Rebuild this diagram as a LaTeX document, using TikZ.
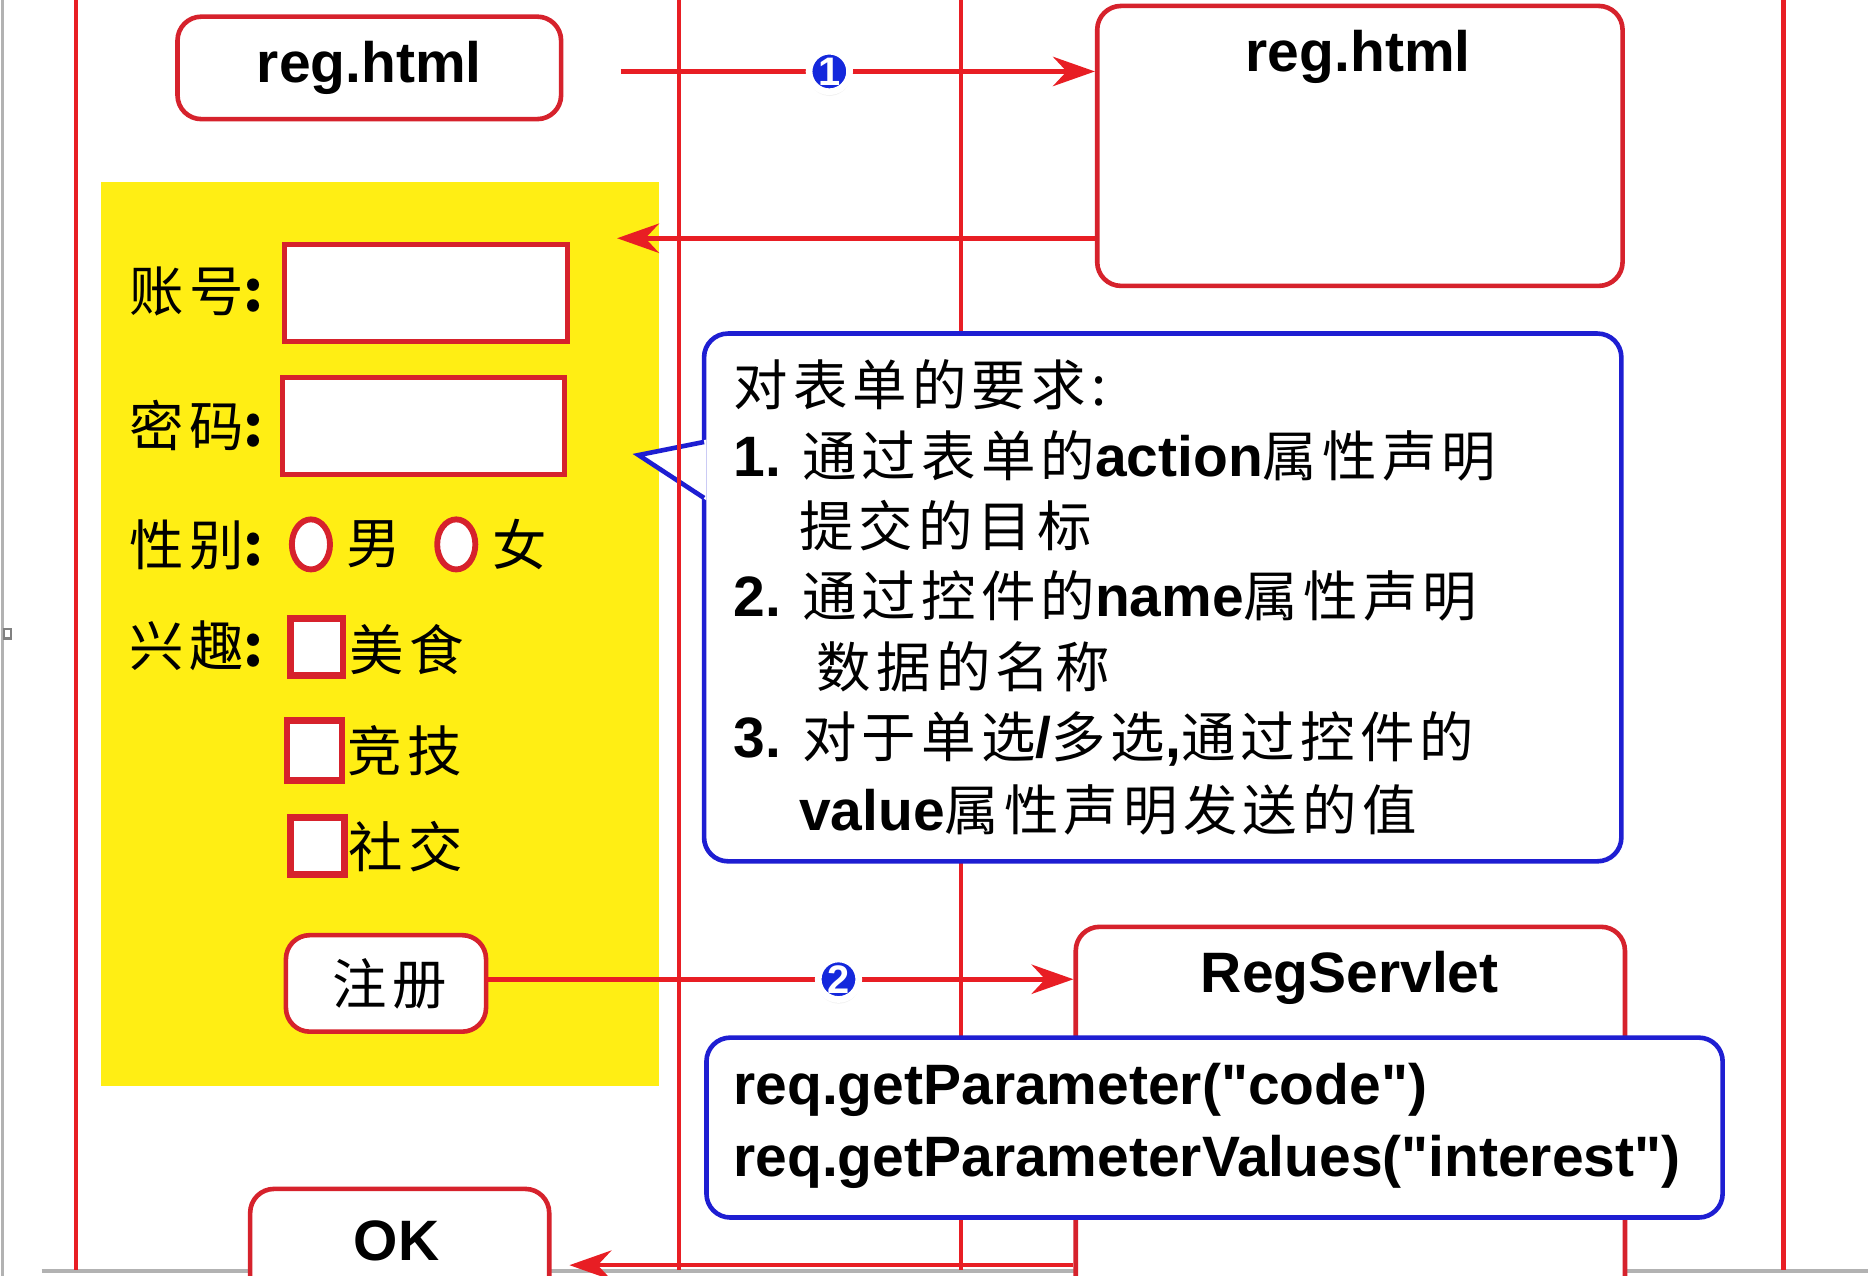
\documentclass[tikz,border=0pt]{standalone}
\usepackage{fontspec}
\setmainfont{Liberation Sans}[Ligatures=TeXOff]
\newfontfamily\cjk{Noto Sans CJK SC}[LetterSpace=9.5]
\usetikzlibrary{arrows.meta,shadows,fit,shapes.geometric}
\definecolor{lred}{RGB}{232,30,36}
\definecolor{bred}{RGB}{214,34,44}
\definecolor{bblue}{RGB}{30,30,210}
\definecolor{fyellow}{RGB}{255,238,20}
\definecolor{badgeblue}{RGB}{20,40,220}
\newcommand\latb{\fontsize{13.6}{16}\selectfont\bfseries}
\newcommand\zht{\fontsize{13}{16}\selectfont\cjk}
\begin{document}
\begin{tikzpicture}[x=0.01cm,y=-0.01cm,
  vline/.style={lred, line width=1pt},
  box/.style={draw=bred, line width=1.1pt, rounded corners=0.2cm, fill=white, inner sep=0pt},
  bluebox/.style={draw=bblue, line width=1.1pt, rounded corners=0.2cm, fill=white, inner sep=0pt},
  field/.style={draw=bred, line width=1.2pt, fill=white, inner sep=0pt},
  chk/.style={draw=bred, line width=1.6pt, fill=white, inner sep=0pt},
  radio/.style={ellipse, draw=bred, line width=1.4pt, fill=white, inner sep=0pt, minimum width=0.32cm, minimum height=0.42cm},
  arr/.style={lred, line width=1.1pt, -{Stealth[length=10pt,width=7pt]}},
  badge/.style={circle, fill=badgeblue, draw=white, line width=1.6pt, inner sep=0pt, minimum size=0.34cm, text=white, font=\fontsize{9.5}{9.5}\selectfont\bfseries, circular drop shadow={shadow xshift=0pt, shadow yshift=-0.6pt, shadow scale=1.08, opacity=0.3}},
  txt/.style={anchor=west, inner sep=0pt},
]
\useasboundingbox (0,0) rectangle (1568,1071);
\clip (0,0) rectangle (1568,1071);
\fill[white] (0,0) rectangle (1568,1071);
% screenshot edges
\draw[gray!60, line width=0.8pt] (2,0) -- (2,1071);
\draw[gray!60, line width=1pt] (35,1067) -- (1568,1067);
\draw[gray, line width=0.5pt] (3,528) rectangle (9,536);
% lifelines
\draw[vline] (64,0) -- (64,1066);
\draw[vline] (807,0) -- (807,1066);
\draw[vline] (1497,0) -- (1497,1066);
% form area
\fill[fyellow] (85,153) rectangle (553,912);
\node[box, fit={(149,14)(471,100)}] (reg1) {};
\node[font=\latb] (reg1t) at (reg1.center) {reg.html};
\node[box, fit={(921,5)(1362,240)}] (reg2) {};
\node[font=\latb] (reg2t) at (1140,48) {reg.html};
\node[box, fit={(903,778)(1364,1120)}] (servlet) {};
\node[font=\latb] (servt) at (1133,821) {RegServlet};
\node[box, fit={(210,998)(461,1120)}] (okb) {};
\node[font=\latb] (okt) at (333,1042) {OK};
% fields
\node[txt, font=\zht] (lacct) at (108,245) {账号{\latb :}};
\node[field, fit={(239,205)(476,287)}] (acct) {};
\node[txt, font=\zht] (lpwd) at (108,357) {密码{\latb :}};
\node[field, fit={(237,317)(474,398)}] (pwd) {};
\node[txt, font=\zht] (lsex) at (108,457) {性别{\latb :}};
\node[radio] (male) at (261,457) {};
\node[txt, font=\zht] (tmale) at (290,457) {男};
\node[radio] (female) at (383,457) {};
\node[txt, font=\zht] (tfemale) at (413,457) {女};
\node[txt, font=\zht] (lint) at (108,542) {兴趣{\latb :}};
\node[chk, fit={(244,519)(288,567)}] (c1) {};
\node[txt, font=\zht] (t1) at (293,545) {美食};
\node[chk, fit={(241,605)(287,655)}] (c2) {};
\node[txt, font=\zht] (t2) at (291,630) {竞技};
\node[chk, fit={(244,686)(289,734)}] (c3) {};
\node[txt, font=\zht] (t3) at (292,711) {社交};
\node[box, fit={(240,785)(408,866)}] (btn) {};
\node[font=\zht] (btnt) at ([xshift=0.03cm]btn.center) {注册};
% callout
\node[bluebox, fit={(591,280)(1361,723)}] (callout) {};
\fill[white] (593,369) -- (536,382) -- (593,420) -- cycle;
\draw[bblue, line width=1.1pt, line join=miter] (591,371) -- (536,382) -- (591,418);
\node[txt, font=\zht] (q0) at (615,323) {对表单的要求:};
\node[txt] (q1) at (615,383) {{\latb 1. }{\zht 通过表单的}{\latb action}{\zht 属性声明}};
\node[txt, font=\zht] (q1b) at (670,441) {提交的目标};
\node[txt] (q2) at (615,500) {{\latb 2. }{\zht 通过控件的}{\latb name}{\zht 属性声明}};
\node[txt, font=\zht] (q2b) at (685,560) {数据的名称};
\node[txt] (q3) at (615,620) {{\latb 3. }{\zht 对于单选}{\latb /}{\zht 多选}{\latb ,}{\zht 通过控件的}};
\node[txt] (q3b) at (670,680) {{\latb value}{\zht 属性声明发送的值}};
% code box
\node[bluebox, fit={(593,871)(1446,1022)}] (code) {};
\node[txt, font=\latb] (code1) at (615,915) {req.getParameter("code")};
\node[txt, font=\latb] (code2) at (615,975) {req.getParameterValues("interest")};
% messages
\coordinate (a1) at (521,60);
\draw[arr] (a1) -- (a1 -| reg2.west) node[badge, pos=0.44] (b1) {1};
\coordinate (a2) at (518,200);
\draw[arr] (a2 -| reg2.west) -- (a2);
\coordinate (a3) at (408,822);
\draw[arr] (a3) -- (a3 -| servlet.west) node[badge, pos=0.6] (b2) {2};
\coordinate (a4) at (478,1062);
\draw[arr] (a4 -| servlet.west) -- (a4);
\draw[vline] (570,0) -- (570,1066);
\end{tikzpicture}
\end{document}
